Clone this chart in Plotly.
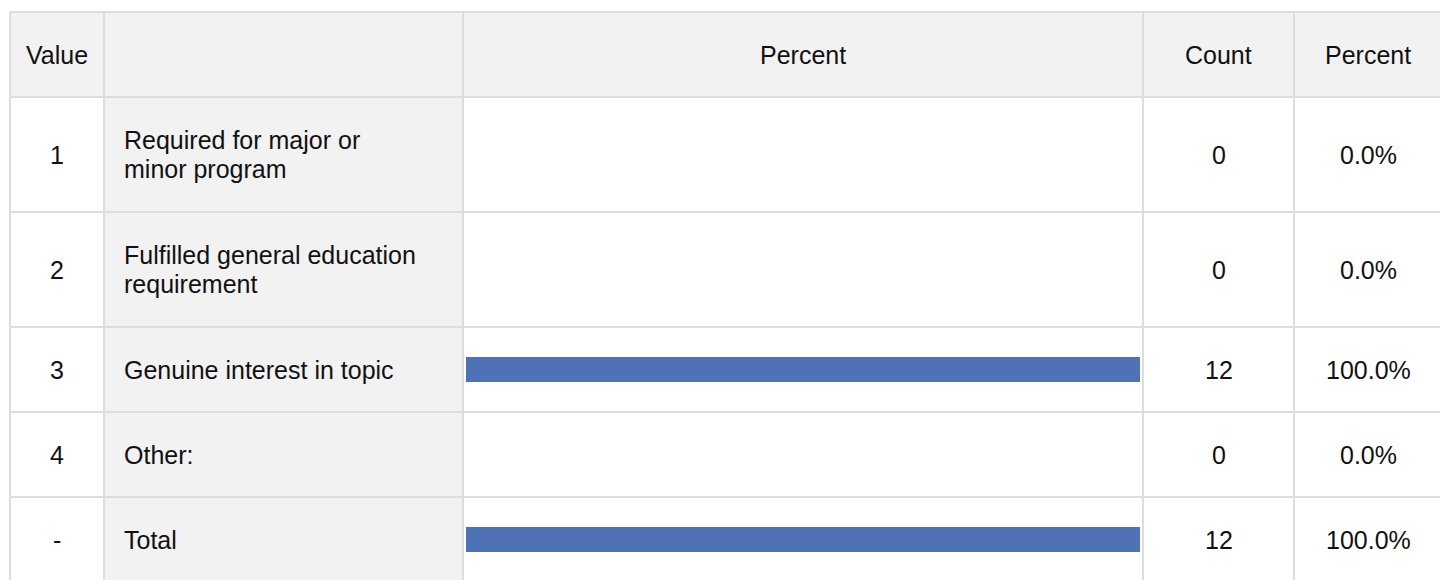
import plotly.graph_objects as go

# ---- data ----
header = ["Value", "", "Percent", "Count", "Percent"]
values = ["1", "2", "3", "4", "-"]
labels = [
    ["Required for major or", "minor program"],
    ["Fulfilled general education", "requirement"],
    ["Genuine interest in topic"],
    ["Other:"],
    ["Total"],
]
counts = [0, 0, 12, 0, 12]
percents = [0.0, 0.0, 100.0, 0.0, 100.0]

# ---- layout constants (pixels) ----
W, H = 1440, 580
col_edges = [10, 104, 463, 1143, 1294, 1442]
row_heights = [85, 115, 115, 85, 85, 85]  # header + 5 rows
top = 12
LINE_GAP = 29
row_edges = [top]
for h in row_heights:
    row_edges.append(row_edges[-1] + h)
row_centers = [(row_edges[i] + row_edges[i + 1]) / 2 for i in range(len(row_heights))]

GRAY = "#f2f2f2"
LINE = "#dddddd"
TXT = "#111111"
BAR = "#4f71b5"
FONT = dict(family="Liberation Sans, Arial, sans-serif", size=25, color=TXT)

shapes = []
shapes.append(dict(type="rect", xref="x", yref="y", x0=col_edges[0], x1=col_edges[-1],
                   y0=row_edges[0], y1=row_edges[1], fillcolor=GRAY, line_width=0, layer="below"))
shapes.append(dict(type="rect", xref="x", yref="y", x0=col_edges[1], x1=col_edges[2],
                   y0=row_edges[1], y1=row_edges[-1], fillcolor=GRAY, line_width=0, layer="below"))
for y in row_edges:
    shapes.append(dict(type="line", xref="x", yref="y", x0=col_edges[0], x1=col_edges[-1],
                       y0=y, y1=y, line=dict(color=LINE, width=2), layer="below"))
for x in col_edges:
    shapes.append(dict(type="line", xref="x", yref="y", x0=x, x1=x,
                       y0=row_edges[0], y1=row_edges[-1], line=dict(color=LINE, width=2), layer="below"))

annotations = []
col_centers = [(col_edges[i] + col_edges[i + 1]) / 2 for i in range(len(col_edges) - 1)]


def ann(x, y, text, xanchor="center"):
    annotations.append(dict(xref="x", yref="y", x=x, y=y, text=text, showarrow=False,
                            xanchor=xanchor, yanchor="middle", align="left", font=FONT))


for i, h in enumerate(header):
    if h:
        ann(col_centers[i], row_centers[0], h)

for r in range(len(values)):
    yc = row_centers[r + 1]
    ann(col_centers[0], yc, values[r])
    n = len(labels[r])
    for k, line in enumerate(labels[r]):
        ann(col_edges[1] + 18, yc + (k - (n - 1) / 2) * LINE_GAP, line, xanchor="left")
    ann(col_centers[3], yc, str(counts[r]))
    ann(col_centers[4], yc, f"{percents[r]:.1f}%")

fig = go.Figure()
fig.add_trace(go.Bar(
    x=percents,
    y=row_centers[1:],
    orientation="h",
    width=25,
    marker=dict(color=BAR, line=dict(width=0)),
    xaxis="x2",
    yaxis="y",
    hoverinfo="skip",
    showlegend=False,
))

bar_x0, bar_x1 = col_edges[2] + 3, col_edges[3] - 3
fig.update_layout(
    width=W, height=H,
    margin=dict(l=0, r=0, t=0, b=0),
    paper_bgcolor="white", plot_bgcolor="rgba(0,0,0,0)",
    xaxis=dict(range=[0, W], domain=[0, 1], visible=False, fixedrange=True),
    xaxis2=dict(range=[0, 100], domain=[bar_x0 / W, bar_x1 / W], anchor="y",
                visible=False, fixedrange=True),
    yaxis=dict(range=[H, 0], domain=[0, 1], visible=False, fixedrange=True),
    shapes=shapes,
    annotations=annotations,
    showlegend=False,
)

fig.write_html(
    "out.html",
    config={"displayModeBar": False},
    post_script="document.body.style.margin='0';document.body.style.overflow='hidden';",
)
